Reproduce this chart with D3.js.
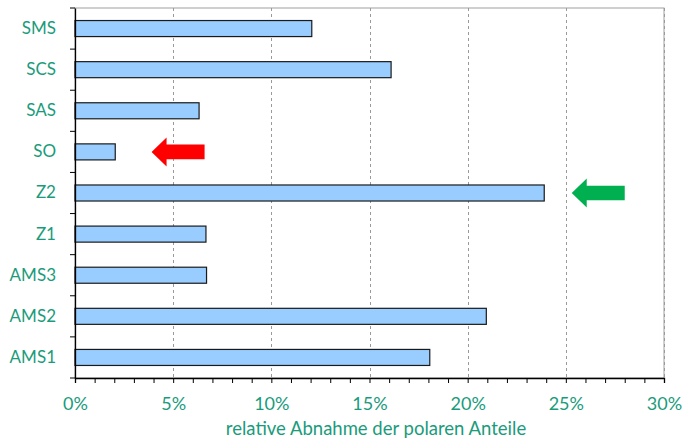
<!DOCTYPE html>
<html><head><meta charset="utf-8">
<script src="https://cdn.jsdelivr.net/npm/d3@7"></script>
<style>
html,body{margin:0;padding:0;background:#fff;}
svg{display:block;font-family:Lato,"Open Sans",sans-serif;}
</style></head>
<body>
<svg id="chart" width="684" height="440"></svg>
<script>
const categories = ["SMS","SCS","SAS","SO","Z2","Z1","AMS3","AMS2","AMS1"];
const values = [12.06, 16.1, 6.32, 2.05, 23.9, 6.67, 6.7, 20.95, 18.07];
const xTicks = [0,5,10,15,20,25,30];
const xTitle = "relative Abnahme der polaren Anteile";
// annotation arrows: category, tip value, tail value, colour
const arrowCats = ["SO","Z2"];
const arrowTips = [3.9, 25.3];
const arrowTails = [6.6, 28.0];
const arrowColors = ["#ff0000","#00b050"];

const textColor = "#1a9b7b";
const svg = d3.select("#chart");
const m = {left:75, right:20, top:8, bottom:62};
const W = 684, H = 440;
const x = d3.scaleLinear().domain([0,30]).range([m.left, W-m.right]);
const y = d3.scaleBand().domain(categories).range([m.top, H-m.bottom]).paddingInner(0.61).paddingOuter(0.305);
const yb = d3.scaleBand().domain(categories).range([m.top, H-m.bottom]);

// plot border
svg.append("rect").attr("x",x(0)).attr("y",m.top).attr("width",x(30)-x(0)).attr("height",H-m.bottom-m.top)
  .attr("fill","none").attr("stroke","#a0a0a0").attr("stroke-width",1);

// grid
svg.append("g").selectAll("line").data(xTicks.filter(d=>d>0)).join("line")
  .attr("x1",d=>Math.round(x(d))+0.5).attr("x2",d=>Math.round(x(d))+0.5)
  .attr("y1",m.top).attr("y2",H-m.bottom)
  .attr("stroke","#9a9a9a").attr("stroke-dasharray","3,3").attr("stroke-width",1);

// bars
svg.append("g").selectAll("rect").data(categories).join("rect")
  .attr("x",x(0)).attr("y",d=>y(d))
  .attr("width",(d,i)=>x(values[i])-x(0)).attr("height",y.bandwidth())
  .attr("fill","#99ccff").attr("stroke","#1a1a1a").attr("stroke-width",1.2);

// x axis minor ticks
const xAxisG = svg.append("g").attr("transform",`translate(0,${H-m.bottom})`);
xAxisG.call(d3.axisBottom(x).tickValues(d3.range(0,31,1)).tickSize(5).tickFormat(""))
  .call(g=>g.select(".domain").attr("stroke","#000").attr("stroke-width",1.3))
  .call(g=>g.selectAll(".tick line").attr("stroke","#000"));
const xLab = svg.append("g").attr("transform",`translate(0,${H-m.bottom})`);
xLab.call(d3.axisBottom(x).tickValues(xTicks).tickSize(0).tickPadding(19).tickFormat(d=>d+"%"))
  .call(g=>g.select(".domain").remove())
  .call(g=>g.selectAll("text").attr("fill",textColor).attr("font-size",18).attr("font-family","Lato,'Open Sans',sans-serif"));

// y axis
const yAxisG = svg.append("g").attr("transform",`translate(${x(0)},0)`);
yAxisG.call(d3.axisLeft(yb).tickSize(0).tickPadding(19))
  .call(g=>g.select(".domain").attr("stroke","#000").attr("stroke-width",1.3))
  .call(g=>g.selectAll("text").attr("fill",textColor).attr("font-size",17).attr("font-family","Lato,'Open Sans',sans-serif"));
// y ticks at band boundaries
svg.append("g").selectAll("line").data(categories.concat(["_end"])).join("line")
  .attr("x1",x(0)-5).attr("x2",x(0))
  .attr("y1",(d,i)=>i<categories.length?yb(d):yb.range()[1])
  .attr("y2",(d,i)=>i<categories.length?yb(d):yb.range()[1])
  .attr("stroke","#000").attr("stroke-width",1);

// x title
svg.append("text").attr("x",376).attr("y",435).attr("text-anchor","middle")
  .attr("fill",textColor).attr("font-size",18.5).text(xTitle);

// arrows
arrowCats.forEach((c,i)=>{
  const cy = yb(c)+yb.bandwidth()/2;
  const tip = x(arrowTips[i]), tail = x(arrowTails[i]);
  const headLen = 15, headHalf = 14.5, shaftHalf = 7.3;
  const p = [[tip,cy],[tip+headLen,cy-headHalf],[tip+headLen,cy-shaftHalf],[tail,cy-shaftHalf],
             [tail,cy+shaftHalf],[tip+headLen,cy+shaftHalf],[tip+headLen,cy+headHalf]];
  svg.append("path").attr("d",d3.line()(p)+"Z").attr("fill",arrowColors[i]);
});
</script>
</body></html>
